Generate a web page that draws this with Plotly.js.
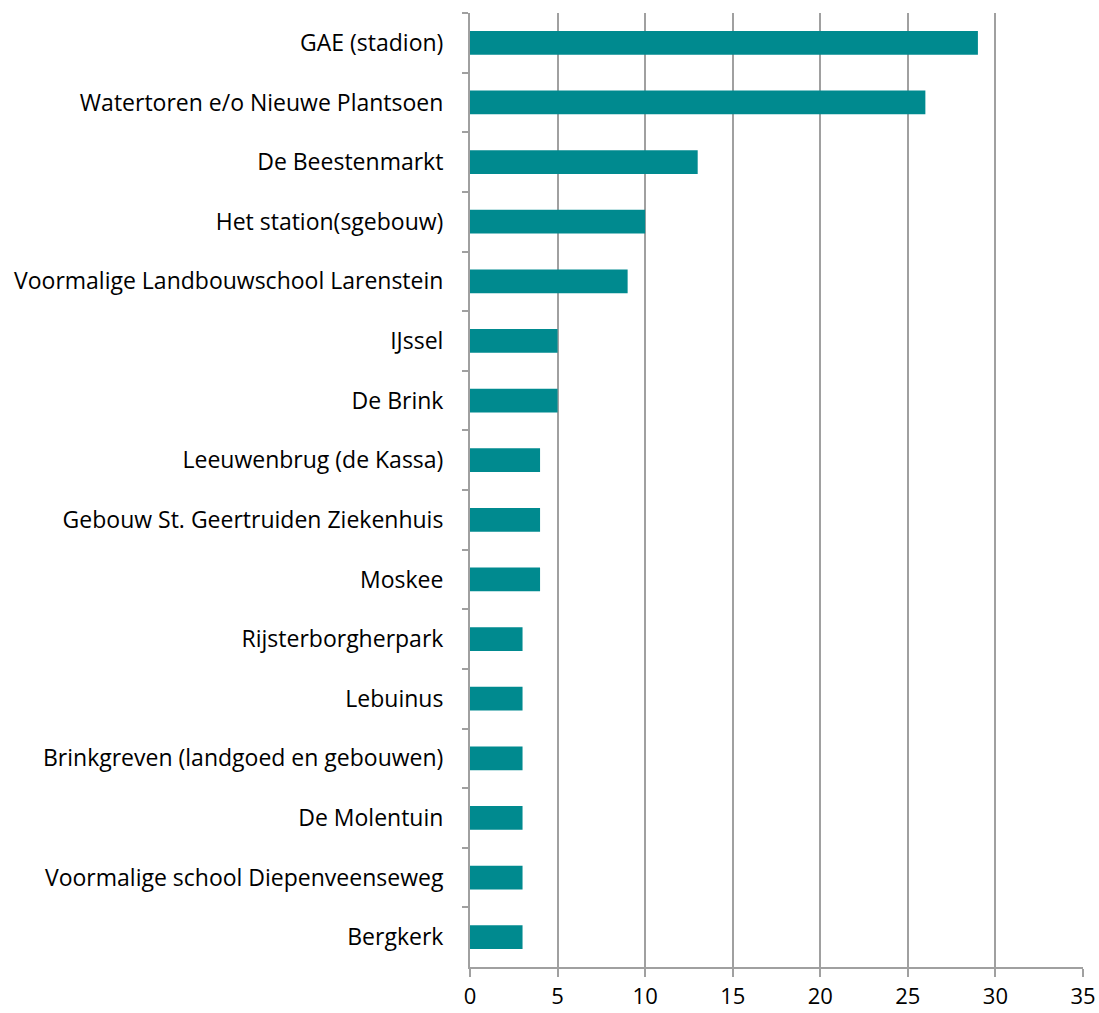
<!DOCTYPE html>
<html>
<head>
<meta charset="utf-8">
<script src="https://cdn.plot.ly/plotly-3.0.1.min.js"></script>
<style>html,body{margin:0;padding:0;background:#fff;}#chart{width:1099px;height:1013px;}</style>
</head>
<body>
<div id="chart"></div>
<script>
const categories = [
  "GAE (stadion)",
  "Watertoren e/o Nieuwe Plantsoen",
  "De Beestenmarkt",
  "Het station(sgebouw)",
  "Voormalige Landbouwschool Larenstein",
  "IJssel",
  "De Brink",
  "Leeuwenbrug (de Kassa)",
  "Gebouw St. Geertruiden Ziekenhuis",
  "Moskee",
  "Rijsterborgherpark",
  "Lebuinus",
  "Brinkgreven (landgoed en gebouwen)",
  "De Molentuin",
  "Voormalige school Diepenveenseweg",
  "Bergkerk"
];
const values = [29, 26, 13, 10, 9, 5, 5, 4, 4, 4, 3, 3, 3, 3, 3, 3];
const xTickValues = [0, 5, 10, 15, 20, 25, 30, 35];

const trace = {
  type: "bar",
  orientation: "h",
  x: values,
  y: categories,
  width: 0.4,
  marker: {color: "#008A8F", line: {width: 0}},
  hoverinfo: "x+y"
};

const layout = {
  width: 1099,
  height: 1013,
  margin: {l: 470, r: 16, t: 13, b: 46, pad: 0},
  paper_bgcolor: "#ffffff",
  plot_bgcolor: "#ffffff",
  font: {family: "'Open Sans', Lato, sans-serif", size: 23, color: "#000000"},
  showlegend: false,
  bargap: 0.6,
  xaxis: {
    range: [0, 35],
    tickvals: xTickValues,
    ticktext: xTickValues.map(String),
    showgrid: true,
    gridcolor: "#a0a0a0",
    gridwidth: 2,
    showline: true,
    linecolor: "#a0a0a0",
    linewidth: 2,
    ticks: "outside",
    ticklen: 8,
    tickcolor: "#a0a0a0",
    tickwidth: 2,
    ticklabelstandoff: 1,
    zeroline: false,
    tickfont: {size: 22, color: "#000"},
    fixedrange: true
  },
  yaxis: {
    type: "category",
    categoryorder: "array",
    categoryarray: categories,
    autorange: "reversed",
    showgrid: false,
    showline: true,
    linecolor: "#a0a0a0",
    linewidth: 2,
    ticks: "outside",
    tickson: "boundaries",
    ticklen: 6,
    tickcolor: "#a0a0a0",
    tickwidth: 2,
    ticklabelstandoff: 20,
    zeroline: false,
    tickfont: {size: 23, color: "#000"},
    fixedrange: true
  }
};

Plotly.newPlot("chart", [trace], layout, {displayModeBar: false, staticPlot: true});
</script>
</body>
</html>
